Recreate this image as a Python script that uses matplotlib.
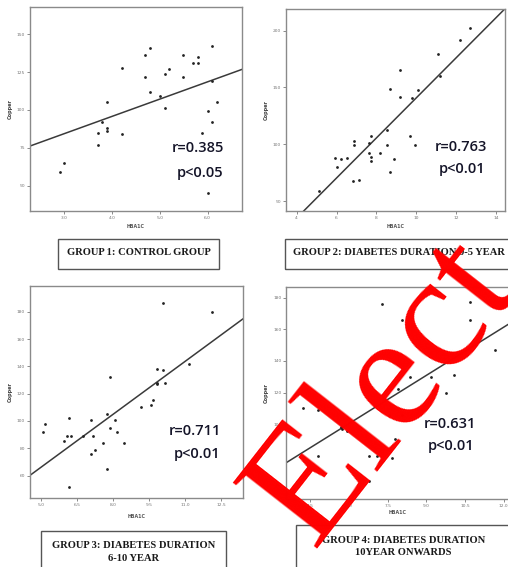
import numpy as np
import matplotlib.pyplot as plt
from matplotlib.patches import Rectangle

W, H = 508, 567

# values (HBA1C vs Copper)
g1_hba1c = [2.90, 3.00, 3.70, 3.70, 3.79, 3.90, 3.90, 3.90, 4.20, 4.20, 4.69, 4.69, 4.80, 4.80, 5.00,
            5.10, 5.10, 5.20, 5.49, 5.49, 5.70, 5.79, 5.79, 6.09, 6.09, 6.00, 6.09, 6.20, 5.89, 6.00]
g1_copper = [59, 65, 85, 77, 92, 105, 88, 86, 128, 84, 136, 122, 141, 112, 109,
             124, 101, 127, 136, 122, 131, 135, 131, 142, 119, 99, 92, 105, 85, 45]

g2_hba1c = [5.12, 5.91, 6.01, 6.22, 6.53, 6.81, 6.89, 6.89, 7.13, 7.61, 7.71, 7.61, 7.71, 7.71, 8.20,
            8.52, 8.52, 8.68, 8.70, 8.90, 9.20, 9.20, 9.70, 9.80, 9.92, 10.10, 11.09, 11.19, 12.21, 12.70]
g2_copper = [59, 88, 80, 87, 88, 68, 103, 99, 69, 101, 107, 92, 89, 85, 92,
             113, 99, 76, 149, 87, 165, 142, 107, 141, 99, 148, 179, 160, 192, 202]

g3_hba1c = [5.08, 5.18, 5.97, 6.08, 6.17, 6.26, 6.17, 6.76, 7.07, 7.17, 7.07, 7.26, 7.57, 7.76, 7.76, 7.86,
            7.86, 8.07, 8.17, 8.47, 9.17, 9.56, 9.65, 9.85, 9.85, 9.85, 10.06, 10.06, 10.15, 11.15, 12.14]
g3_copper = [92, 98, 85, 89, 102, 89, 52, 89, 101, 89, 76, 79, 84, 105, 65, 132,
             95, 101, 92, 84, 110, 112, 115, 138, 128, 127, 186, 137, 128, 142, 180]

g4_hba1c = [4.20, 4.79, 4.79, 5.70, 5.72, 5.90, 6.79, 6.79, 7.09, 7.27, 7.57, 7.68, 7.77, 7.89,
            8.07, 8.36, 8.06, 9.19, 9.77, 10.08, 10.69, 10.69, 11.66]
g4_copper = [110, 109, 80, 98, 97, 96, 80, 64, 80, 176, 106, 79, 91, 122,
             106, 130, 166, 130, 120, 131, 177, 166, 147]

# fitted lines (slope, intercept) as drawn
fit_lines = [(11.4, 50.2), (17.63, -35.4), (12.91, 1.6), (10.13, 39.7)]
r_texts = ["r=0.385", "r=0.763", "r=0.711", "r=0.631"]
p_texts = ["p<0.05", "p<0.01", "p<0.01", "p<0.01"]

x_limits = [(2.28, 6.72), (3.45, 14.43), (4.54, 13.40), (3.56, 12.33)]
y_limits = [(33.3, 168), (41.6, 219), (43.4, 198.8), (52.8, 186.9)]
x_ticks = [[3.0, 4.0, 5.0, 6.0], [4, 6, 8, 10, 12, 14],
           [5.0, 6.5, 8.0, 9.5, 11.0, 12.5], [4.5, 6.0, 7.5, 9.0, 10.5, 12.0]]
y_ticks = [[50, 75, 100, 125, 150], [50, 100, 150, 200],
           [60, 80, 100, 120, 140, 160, 180], [100, 120, 140, 160, 180]]
x_fmt = ["{:.1f}", "{:.0f}", "{:.1f}", "{:.1f}"]

captions = ["GROUP 1: CONTROL GROUP",
            "GROUP 2: DIABETES DURATION 0-5 YEAR",
            "GROUP 3: DIABETES DURATION\n6-10 YEAR",
            "GROUP 4: DIABETES DURATION\n10YEAR ONWARDS"]

data = [(g1_hba1c, g1_copper), (g2_hba1c, g2_copper), (g3_hba1c, g3_copper), (g4_hba1c, g4_copper)]

fig = plt.figure(figsize=(W / 100, H / 100), dpi=100)

def add_px_axes(l, t, r, b):
    return fig.add_axes([l / W, 1 - b / H, (r - l) / W, (b - t) / H])

# axes boxes in pixels: left, top, right, bottom
boxes = [(30, 7, 242, 211), (285.7, 9, 504.7, 210.7), (30, 286, 242.7, 498.3), (286.3, 286.7, 512, 499)]
# r / p text positions in pixels
txt_pos = [((198, 148), (200, 173)), ((461, 147), (462, 169)),
           ((195, 431), (197, 454)), ((450, 424), (451, 446))]
xlab_y = [227, 227, 517, 513]

for i, (l, t, r, b) in enumerate(boxes):
    ax = add_px_axes(l, t, r, b)
    x, y = data[i]
    ax.scatter(x, y, s=4, color="#222222", marker="o", linewidths=0, zorder=3)
    xs = np.array(x_limits[i])
    m, c = fit_lines[i]
    ax.plot(xs, m * xs + c, color="#3a3a3a", lw=1.1, zorder=2)
    ax.set_xlim(*x_limits[i])
    ax.set_ylim(*y_limits[i])
    ax.set_xticks(x_ticks[i])
    ax.set_xticklabels([x_fmt[i].format(v) for v in x_ticks[i]])
    ax.set_yticks(y_ticks[i])
    ax.set_yticklabels([str(v) for v in y_ticks[i]])
    ax.tick_params(labelsize=3.2, length=2, width=0.6, colors="#777777", pad=1.5)
    for sp in ax.spines.values():
        sp.set_color("#8a8a8a")
        sp.set_linewidth(1.0)
    ax.set_ylabel("Copper", fontsize=3.6, fontweight="bold", color="#444444", labelpad=3)
    cx = (l + r) / 2 if i != 3 else 398
    fig.text(cx / W, 1 - xlab_y[i] / H, "HBA1C", fontsize=3.4, fontweight="bold",
             color="#555555", ha="center", va="center")
    (rx, ry), (qx, qy) = txt_pos[i]
    fig.text(rx / W, 1 - ry / H, r_texts[i], fontsize=10.5, family="Open Sans", fontweight="semibold",
             color="#141428", ha="center", va="center")
    fig.text(qx / W, 1 - qy / H, p_texts[i], fontsize=10.5, family="Open Sans", fontweight="semibold",
             color="#141428", ha="center", va="center")

# caption boxes under each panel
cap_boxes = [(58.3, 239, 219.3, 269), (285, 239, 512, 269), (41, 530.7, 226, 575), (296, 525.3, 512, 575)]
cap_text = [((139, 253), "center"), ((292.7, 253), "left"), ((133.5, 552), "center"), ((403.7, 546.5), "center")]
for i, (l, t, r, b) in enumerate(cap_boxes):
    fig.add_artist(Rectangle((l / W, 1 - b / H), (r - l) / W, (b - t) / H, transform=fig.transFigure,
                             fill=False, edgecolor="#555555", linewidth=1.0))
    (tx, ty), ha = cap_text[i]
    fig.text(tx / W, 1 - ty / H, captions[i], fontsize=7.6, family="Liberation Serif", fontweight="bold",
             color="#1a1a1a", ha=ha, va="center", linespacing=1.45)

# red watermark lying across the lower right (cut by the page edges, as in the source)
fig.text(385 / W, 1 - 392 / H, "Elect", fontsize=118, family="Liberation Serif", color="#ff0000",
         rotation=52, rotation_mode="anchor", ha="center", va="center", zorder=20)

fig.savefig("out.png", dpi=100)
